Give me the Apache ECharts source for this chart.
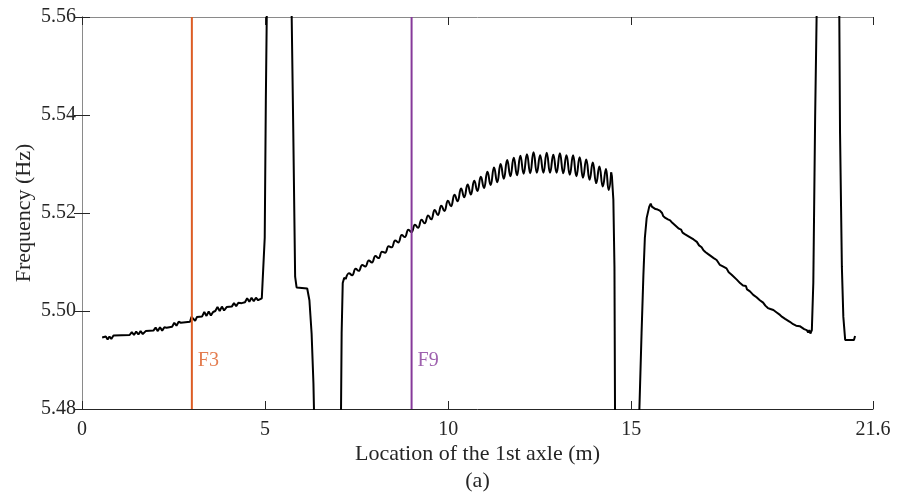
<!DOCTYPE html>
<html>
<head>
<meta charset="utf-8">
<script src="https://cdn.jsdelivr.net/npm/echarts@6/dist/echarts.min.js"></script>
<style>
  html, body { margin: 0; padding: 0; background: #fff; }
  #chart { width: 901px; height: 493px; }
</style>
</head>
<body>
<div id="chart"></div>
<script>
// tick labels
const xTicks = [0, 5, 10, 15, 21.6];
const yMin = 5.48, yMax = 5.56, yStep = 0.02;

// vertical markers
const markerX = [3, 9];
const markerNames = ['F3', 'F9'];

// frequency curve, [location (m), frequency (Hz)]
// before the first peak
const segA = [
    [0.55,5.4946],[0.60,5.4942],[0.65,5.4948],[0.70,5.4942],[0.75,5.4948],[0.80,5.4943],[0.86,5.4950],
    [1.30,5.4951],[1.36,5.4957],[1.42,5.4951],[1.48,5.4958],[1.54,5.4952],[1.60,5.4959],[1.66,5.4953],[1.74,5.4959],
    [1.95,5.4960],[2.01,5.4966],[2.07,5.4959],[2.13,5.4967],[2.19,5.4960],[2.25,5.4967],[2.31,5.4966],
    [2.46,5.4968],[2.52,5.4976],[2.58,5.4970],[2.64,5.4978],[2.70,5.4976],
    [2.95,5.4978],[2.99,5.4988],[3.04,5.4990],[3.09,5.4980],[3.14,5.4988],[3.28,5.4989],
    [3.34,5.4998],[3.40,5.4990],[3.46,5.4999],[3.52,5.4991],[3.58,5.4998],
    [3.64,5.5000],[3.70,5.5008],[3.76,5.5000],[3.82,5.5009],[3.88,5.5001],[3.95,5.5008],
    [4.09,5.5009],[4.15,5.5016],[4.21,5.5010],[4.27,5.5017],[4.36,5.5016],
    [4.45,5.5018],[4.51,5.5026],[4.57,5.5019],[4.63,5.5027],[4.69,5.5020],[4.75,5.5027],[4.81,5.5022],
    [4.91,5.5026],[4.95,5.5030],[4.99,5.5150],[5.02,5.5430],[5.045,5.5600],[5.07,5.6000]
];
// first peak and the dip below the axis
const segB = [
    [5.70,5.6000],[5.726,5.5600],[5.77,5.5363],[5.82,5.5070],[5.86,5.5048],[6.15,5.5046],
    [6.21,5.5022],[6.27,5.4954],[6.32,5.4852],[6.335,5.4798],[6.36,5.4700],[7.04,5.4700]
];
// rising arch: the climb, the oscillation, the drop
const segCRise = [
    [7.06,5.4700],[7.073,5.4798],[7.09,5.4954],[7.12,5.5057],[7.16,5.5068]
];
const segCWave = [
    [7.20,5.5065],[7.29,5.5077],[7.38,5.5073],[7.47,5.5086],[7.56,5.5082],[7.65,5.5094],
    [7.74,5.5091],[7.83,5.5103],[7.92,5.5099],[8.01,5.5112],[8.10,5.5108],[8.19,5.5121],
    [8.28,5.5119],[8.37,5.5132],[8.46,5.5130],[8.55,5.5144],[8.64,5.5140],[8.73,5.5155],
    [8.82,5.5151],[8.91,5.5166],[9.00,5.5161],[9.09,5.5176],[9.18,5.5170],[9.27,5.5186],
    [9.36,5.5179],[9.45,5.5195],[9.54,5.5187],[9.63,5.5206],[9.72,5.5196],[9.81,5.5215],
    [9.90,5.5204],[9.99,5.5225],[10.08,5.5214],[10.17,5.5237],[10.26,5.5224],[10.35,5.5250],
    [10.44,5.5232],[10.53,5.5258],[10.62,5.5238],[10.71,5.5266],[10.80,5.5245],[10.89,5.5274],
    [10.98,5.5251],[11.07,5.5284],[11.16,5.5257],[11.25,5.5293],[11.34,5.5263],[11.43,5.5300],
    [11.52,5.5270],[11.61,5.5308],[11.70,5.5275],[11.79,5.5313],[11.88,5.5277],[11.97,5.5317],
    [12.06,5.5280],[12.15,5.5320],[12.24,5.5281],[12.33,5.5324],[12.42,5.5282],[12.51,5.5318],
    [12.60,5.5282],[12.69,5.5323],[12.78,5.5282],[12.87,5.5319],[12.96,5.5282],[13.05,5.5322],
    [13.14,5.5281],[13.23,5.5318],[13.32,5.5278],[13.41,5.5318],[13.50,5.5275],[13.59,5.5314],
    [13.68,5.5272],[13.77,5.5309],[13.86,5.5268],[13.95,5.5303],[14.04,5.5261],[14.13,5.5295],
    [14.22,5.5254],[14.31,5.5290],[14.38,5.5247],[14.45,5.5283]
];
const segCDrop = [
    [14.47,5.5275],[14.51,5.5227],[14.54,5.5090],[14.555,5.4800],[14.57,5.4700],[15.19,5.4700]
];
// falling branch
const segD = [
    [15.22,5.4798],[15.28,5.4955],[15.33,5.5073],[15.37,5.5149],[15.42,5.5190],[15.49,5.5213],
    [15.53,5.5219],[15.56,5.5213],[15.60,5.5212],[15.66,5.5208],[15.72,5.5207],[15.78,5.5205],
    [15.84,5.5200],[15.87,5.5194],[15.90,5.5198],[15.93,5.5190],[16.00,5.5187],[16.06,5.5185],
    [16.12,5.5180],[16.18,5.5176],[16.24,5.5172],[16.30,5.5168],[16.36,5.5166],[16.40,5.5160],
    [16.43,5.5163],[16.46,5.5157],[16.55,5.5153],[16.60,5.5152],[16.70,5.5146],[16.79,5.5141],
    [16.85,5.5134],[16.92,5.5130],[16.97,5.5124],[17.00,5.5127],[17.03,5.5120],[17.10,5.5116],
    [17.15,5.5114],[17.25,5.5108],[17.33,5.5104],[17.42,5.5094],[17.50,5.5091],[17.60,5.5087],
    [17.66,5.5079],[17.70,5.5082],[17.74,5.5074],[17.79,5.5073],[17.88,5.5064],[17.97,5.5057],
    [18.05,5.5052],[18.10,5.5048],[18.13,5.5051],[18.16,5.5044],[18.24,5.5040],[18.33,5.5033],
    [18.42,5.5028],[18.51,5.5022],[18.60,5.5017],[18.66,5.5011],[18.70,5.5013],[18.73,5.5006],
    [18.80,5.5004],[18.88,5.5002],[18.97,5.4997],[19.06,5.4992],[19.12,5.4988],[19.16,5.4991],
    [19.20,5.4984],[19.24,5.4982],[19.33,5.4978],[19.42,5.4973],[19.50,5.4970],[19.55,5.4966],
    [19.60,5.4969],[19.65,5.4965],[19.72,5.4963],[19.79,5.4961],[19.83,5.4956],[19.86,5.4961],
    [19.89,5.4954],[19.93,5.4961]
];
// last peak
const segE = [
    [19.97,5.5057],[20.02,5.5396],[20.06,5.5600],[20.09,5.6000],[20.65,5.6000],[20.68,5.5600],
    [20.70,5.5363],[20.75,5.5090],[20.79,5.4988],[20.84,5.4941],[21.08,5.4941],[21.11,5.4949]
];

const font = 'Liberation Serif';
const ink = '#262626';
const markerColors = ['#DD5C24', '#86399A'];
const labelLevel = 5.4898;

// the curve is drawn in three pieces so that only the wave gets rounded
const pieceLeft = [].concat(segA, segB, segCRise, [segCWave[0]]);
const pieceRight = [].concat([segCWave[segCWave.length - 1]], segCDrop, segD, segE);

function curveSeries(data, smooth) {
    return {
        type: 'line',
        data: data,
        showSymbol: false,
        symbol: 'none',
        clip: true,
        smooth: smooth,
        smoothMonotone: 'x',
        lineStyle: { color: '#000', width: 2 },
        z: 2
    };
}

const chart = echarts.init(document.getElementById('chart'));

let markerSeries = [];
for (let i = 0; i < markerX.length; i++) {
    markerSeries.push({
        type: 'line',
        data: [[markerX[i], yMin], [markerX[i], yMax]],
        showSymbol: false,
        symbol: 'none',
        lineStyle: { color: markerColors[i], width: 2 },
        z: 3
    });
    markerSeries.push({
        type: 'scatter',
        data: [[markerX[i], labelLevel]],
        symbolSize: 0,
        label: {
            show: true,
            position: 'right',
            distance: 6,
            formatter: markerNames[i],
            color: markerColors[i],
            fontFamily: font,
            fontSize: 20
        },
        z: 4
    });
}

const option = {
    animation: false,
    backgroundColor: '#fff',
    textStyle: { fontFamily: font },
    grid: { left: 82, top: 17, right: 28, bottom: 84, outerBoundsMode: 'none', containLabel: false },
    xAxis: [{
        type: 'value',
        position: 'bottom',
        min: 0,
        max: 21.6,
        name: 'Location of the 1st axle (m)\n(a)',
        nameLocation: 'middle',
        nameGap: 32,
        nameMoveOverlap: false,
        nameTextStyle: { color: ink, fontSize: 22, fontFamily: font, lineHeight: 27 },
        axisLine: { show: true, lineStyle: { color: ink, width: 1 } },
        axisTick: { show: true, inside: true, length: 8, customValues: xTicks, lineStyle: { color: ink } },
        axisLabel: { customValues: xTicks, color: ink, fontSize: 20, fontFamily: font, margin: 11 },
        splitLine: { show: false }
    }, {
        type: 'value',
        position: 'top',
        min: 0,
        max: 21.6,
        axisLine: { show: true, lineStyle: { color: '#8a8a8a', width: 1 } },
        axisTick: { show: true, inside: true, length: 8, customValues: xTicks, lineStyle: { color: ink } },
        axisLabel: { show: false },
        splitLine: { show: false }
    }],
    yAxis: [{
        type: 'value',
        position: 'left',
        min: yMin,
        max: yMax,
        interval: yStep,
        name: 'Frequency (Hz)',
        nameLocation: 'middle',
        nameGap: 47,
        nameMoveOverlap: false,
        nameTextStyle: { color: ink, fontSize: 22, fontFamily: font },
        axisLine: { show: true, lineStyle: { color: ink, width: 1 } },
        axisTick: { show: true, inside: true, length: 8, lineStyle: { color: ink } },
        axisLabel: {
            color: ink, fontSize: 20, fontFamily: font, margin: 6,
            formatter: v => v.toFixed(2)
        },
        splitLine: { show: false }
    }, {
        type: 'value',
        position: 'right',
        min: yMin,
        max: yMax,
        interval: yStep,
        axisLine: { show: true, lineStyle: { color: '#8a8a8a', width: 1 } },
        axisTick: { show: true, inside: true, length: 8, lineStyle: { color: ink } },
        axisLabel: { show: false },
        splitLine: { show: false }
    }],
    series: [
        curveSeries(pieceLeft, false),
        curveSeries(segCWave, 0.5),
        curveSeries(pieceRight, false)
    ].concat(markerSeries)
};

chart.setOption(option);
</script>
</body>
</html>
